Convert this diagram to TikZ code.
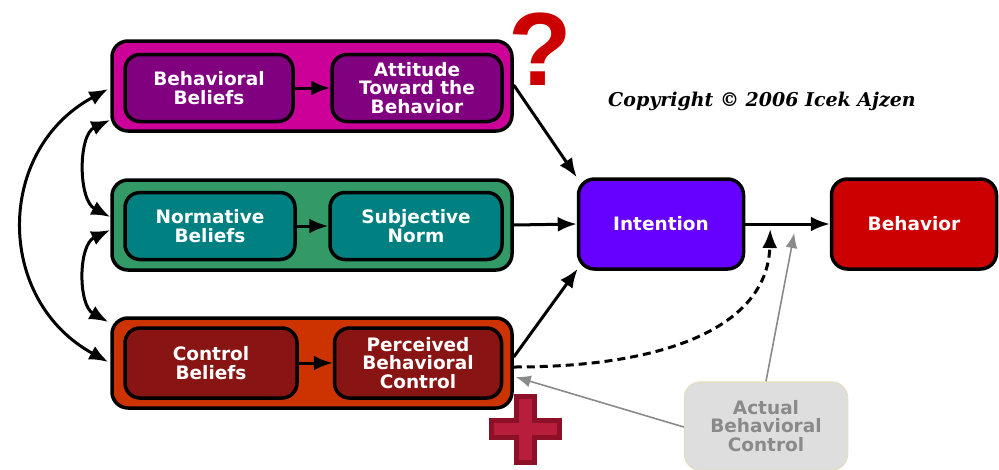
\documentclass[tikz,border=0pt]{standalone}
\usepackage{fontspec}
\setmainfont{DejaVu Sans}
\newfontfamily\copyfont{DejaVu Serif}
\newfontfamily\markfont{Liberation Sans}
\usetikzlibrary{arrows.meta}
\usetikzlibrary{calc}

\definecolor{attouter}{HTML}{CC0099}
\definecolor{attinner}{HTML}{800080}
\definecolor{normouter}{HTML}{339966}
\definecolor{norminner}{HTML}{008080}
\definecolor{ctrlouter}{HTML}{CC3300}
\definecolor{ctrlinner}{HTML}{881414}
\definecolor{intfill}{HTML}{6600FF}
\definecolor{behfill}{HTML}{CC0000}
\definecolor{actfill}{HTML}{DEDEDE}
\definecolor{actdraw}{HTML}{E2DEC4}
\definecolor{acttext}{HTML}{8A8A8A}
\definecolor{plusdark}{HTML}{8B1028}
\definecolor{pluslight}{HTML}{B81E3C}
\newcommand{\boxfont}{\fontsize{18.5}{18.5}\selectfont\bfseries}

\begin{document}
\begin{tikzpicture}[
  x=1pt, y=-1pt,
  > = {Latex[length=19pt,width=15pt]},
  every node/.style = {align=center, inner sep=0pt},
  outerbox/.style = {draw, line width=3.5pt, rounded corners=16pt, minimum width=400pt, minimum height=90pt},
  innerbox/.style = {draw, line width=3.5pt, rounded corners=15pt, minimum height=67pt, text=white, font=\boxfont},
  bigbox/.style = {draw, line width=3.5pt, rounded corners=16pt, minimum width=165pt, minimum height=90pt, text=white, font=\boxfont},
  conn/.style = {->, line width=3pt},
  both/.style = {<->, line width=3pt},
  grayconn/.style = {-{Latex[length=15pt,width=12pt]}, line width=1.6pt, draw=acttext, fill=acttext}
  ]
	\useasboundingbox (0,0) rectangle (999,469);

	% the three belief blocks
	\node[outerbox, fill=attouter] (@att) at (312,86) {};
	\node[outerbox, fill=normouter] (@norm) at (312,225) {};
	\node[outerbox, fill=ctrlouter] (@ctrl) at (312,363) {};

	\node[innerbox, fill=attinner, minimum width=168pt] (@bb) at (209,88) {Behavioral\\Beliefs};
	\node[innerbox, fill=attinner, minimum width=170pt] (@ab) at (417,88) {Attitude\\Toward the\\Behavior};
	\node[innerbox, fill=norminner, minimum width=170pt] (@nb) at (210,226) {Normative\\Beliefs};
	\node[innerbox, fill=norminner, minimum width=172pt] (@sn) at (416,226) {Subjective\\Norm};
	\node[innerbox, fill=ctrlinner, minimum width=172pt, minimum height=70pt] (@cb) at (211,363) {Control\\Beliefs};
	\node[innerbox, fill=ctrlinner, minimum width=167pt, minimum height=70pt] (@pbc) at (418,363) {Perceived\\Behavioral\\Control};

	\node[bigbox, fill=intfill] (@int) at (661,224) {Intention};
	\node[bigbox, fill=behfill] (@beh) at (914,224) {Behavior};
	\node[draw=actdraw, fill=actfill, line width=1.5pt, rounded corners=16pt, minimum width=163pt, minimum height=88pt,
	      text=acttext, font=\boxfont] (@abc) at (766,426) {Actual\\Behavioral\\Control};

	\node[text=behfill, font=\markfont\fontsize{104}{104}\selectfont\bfseries] (@q) at (540,49) {?};
	\node[font=\copyfont\fontsize{19}{19}\selectfont\bfseries\itshape] (@copy) at (762,101) {Copyright \textcopyright{} 2006 Icek Ajzen};

	% plus sign
	\draw[plusdark, fill=pluslight, line width=5pt, line join=miter]
	  (516,396) -- (534,396) -- (534,420) -- (559,420) -- (559,437) -- (534,437) -- (534,462)
	  -- (516,462) -- (516,437) -- (491,437) -- (491,420) -- (516,420) -- cycle;

	% arrows inside the blocks
	\draw[conn] (@bb) -- (@ab);
	\draw[conn] (@nb) -- (@sn);
	\draw[conn] (@cb) -- (@pbc);

	% correlations on the left
	\draw[both] ($(@att.west)+(-2,3)$) .. controls (-5,150) and (-5,300) .. ($(@ctrl.west)+(-2,-1)$);
	\draw[both] ($(@att.west)+(0,34)$) .. controls (78,135) and (78,200) .. ($(@norm.west)+(0,-8)$);
	\draw[both] ($(@norm.west)+(0,5)$) .. controls (78,245) and (78,305) .. ($(@ctrl.west)+(-2,-41)$);

	% towards intention and behavior
	\draw[conn] ($(@att.east)+(0,-1)$) -- (@int.north west);
	\draw[conn] (@norm.east) -- (@int.west);
	\draw[conn] ($(@ctrl.east)+(0,-6)$) -- ($(@int.south west)+(1,-2)$);
	\draw[conn] (@int.east) -- (@beh.west);
	\draw[conn, dashed, dash pattern=on 8pt off 5pt] ($(@ctrl.east)+(0,4)$) .. controls (680,367) and (768,320) .. ($(@int.east)+(25,5)$);

	% actual control
	\draw[grayconn] (@abc.north) -- ($(@int.east)+(49,9)$);
	\draw[grayconn] ($(@abc.west)+(0,1)$) -- ($(@ctrl.east)+(2,14)$);
\end{tikzpicture}
\end{document}
